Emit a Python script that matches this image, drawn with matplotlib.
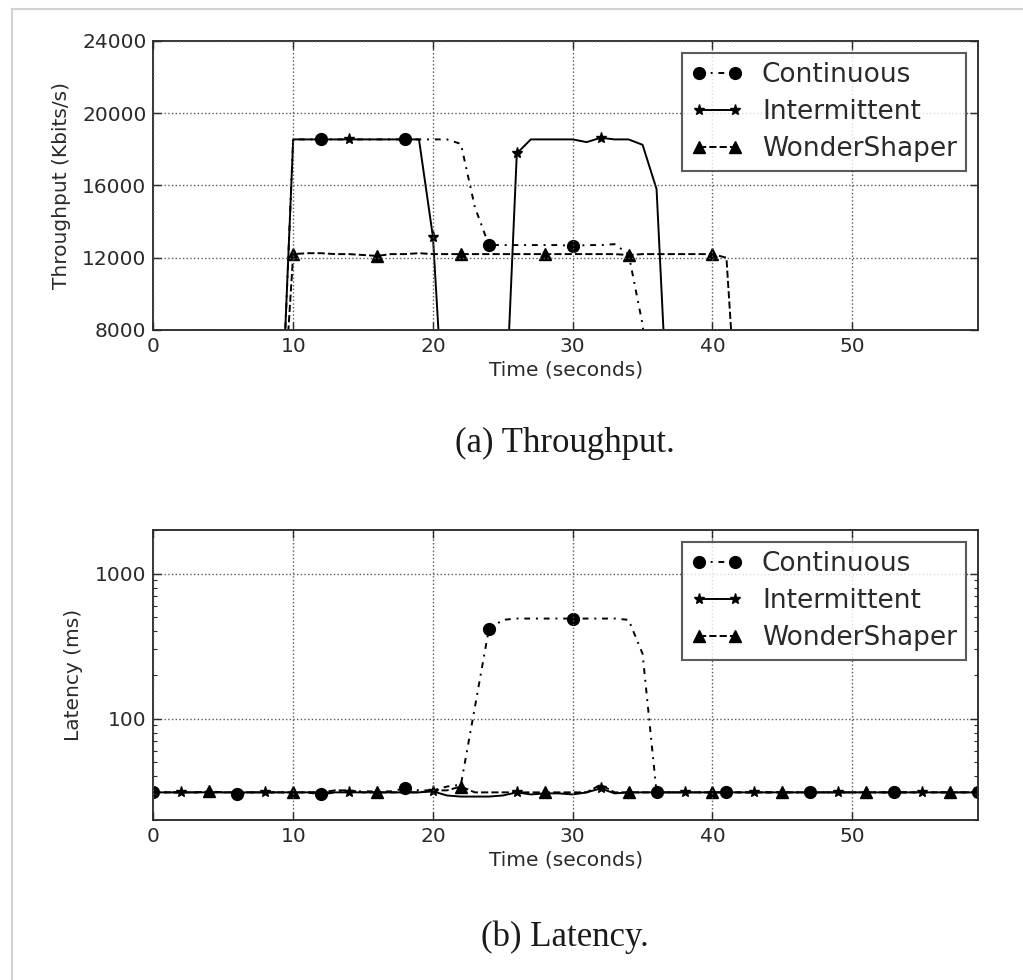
import matplotlib
matplotlib.use('Agg')
import matplotlib.pyplot as plt
from matplotlib.lines import Line2D
from matplotlib.ticker import FixedLocator, FixedFormatter, NullFormatter, LogLocator
import numpy as np

# sample times (seconds)
time_s = list(range(60))

# throughput in Kbits/s, 0 where the flow is idle
tput_continuous = [0]*10 + [18550]*12 + [18300, 14800, 12700, 12700, 12700, 12700, 12700,
                   12700, 12650, 12700, 12700, 12750, 12200, 8300] + [0]*24
tput_intermittent = [0]*10 + [18550]*10 + [13150, 0, 0, 0, 0, 0, 17770, 18550, 18550, 18550,
                     18550, 18400, 18640, 18550, 18550, 18250, 15800] + [0]*23
tput_wondershaper = [0]*10 + [12200, 12250, 12250, 12200, 12200, 12150, 12100, 12200, 12200,
                     12250, 12200, 12200, 12200, 12200, 12200, 12200, 12200, 12200, 12200,
                     12200, 12200, 12200, 12200, 12200, 12150, 12200, 12200, 12200, 12200,
                     12200, 12200, 12000] + [0]*18

# latency in ms
lat_continuous = [31, 31, 31, 31, 31, 31, 30, 31, 31, 31, 31, 31, 30, 31, 31.5, 31.5, 31.5,
                  31.5, 33, 32, 32, 34, 35, 120, 414, 480, 490, 490, 490, 490, 490, 490,
                  490, 490, 480, 280, 31] + [31]*23
lat_intermittent = [31]*20 + [31.5, 29.5, 29, 29, 29, 29.5, 31, 30, 30.5, 30.5, 30, 31, 33,
                    30.5, 31, 31, 31] + [31]*23
lat_wondershaper = [31, 31, 31, 31, 31.5, 31, 31, 31, 31, 31, 31, 31, 31, 32, 32, 31, 31, 31,
                    31, 31, 32, 32, 34, 31, 31, 31, 31, 31, 31, 31, 31, 31, 35, 31, 31, 31,
                    31] + [31]*23

# indices that carry a marker
lat_marks_continuous = [0, 6, 12, 18, 24, 30, 36, 41, 47, 53, 59]
lat_marks_intermittent = [2, 8, 14, 20, 26, 32, 38, 43, 49, 55]
lat_marks_wondershaper = [4, 10, 16, 22, 28, 34, 40, 45, 51, 57]

series_labels = ['Continuous', 'Intermittent', 'WonderShaper']

TXT = '#2a2a2a'
plt.rcParams['font.family'] = 'DejaVu Sans'
plt.rcParams['font.size'] = 14.5
plt.rcParams['text.color'] = TXT
plt.rcParams['axes.labelcolor'] = TXT
plt.rcParams['xtick.color'] = TXT
plt.rcParams['ytick.color'] = TXT


def style_axes(ax):
    for sp in ax.spines.values():
        sp.set_linewidth(1.4)
        sp.set_color('#333333')
    ax.tick_params(which='both', direction='in', top=True, right=True, pad=5)
    ax.tick_params(which='major', length=6, width=1)
    ax.tick_params(which='minor', length=3, width=0.8)
    ax.grid(True, which='major', linestyle=':', color='0.35', linewidth=1.0)
    ax.set_axisbelow(False)
    ax.set_xlim(0, 59)
    ax.set_xticks([0, 10, 20, 30, 40, 50])
    ax.set_xlabel('Time (seconds)', labelpad=3)


def add_legend(ax):
    leg = ax.legend(loc='upper right', numpoints=2, fontsize=19, fancybox=False,
                    handlelength=1.95, handletextpad=0.72, borderpad=0.35,
                    labelspacing=0.42, borderaxespad=0.45)
    leg.get_frame().set_edgecolor('#333333')
    leg.get_frame().set_linewidth(1.5)


def draw(ax, ys, marks):
    ax.plot(time_s, ys[0], linestyle=(0, (3, 3, 1, 3)), color='black', lw=1.4, marker='o',
            ms=8.5, markevery=marks[0], label=series_labels[0])
    ax.plot(time_s, ys[1], linestyle='-', color='black', lw=1.4, marker='*', ms=8,
            markevery=marks[1], label=series_labels[1])
    ax.plot(time_s, ys[2], linestyle='--', color='black', lw=1.4, marker='^', ms=8,
            markevery=marks[2], label=series_labels[2])


fig = plt.figure(figsize=(10.23, 9.8), dpi=100)

# throughput panel
ax1 = fig.add_axes([0.150, 0.6633, 0.806, 0.2949])
draw(ax1, [tput_continuous, tput_intermittent, tput_wondershaper],
     [(0, 6), (2, 6), (4, 6)])
style_axes(ax1)
ax1.set_ylim(8000, 24000)
ax1.set_yticks([8000, 12000, 16000, 20000, 24000])
ax1.set_ylabel('Throughput (Kbits/s)', labelpad=8)
add_legend(ax1)

# latency panel, log scale
ax2 = fig.add_axes([0.150, 0.1633, 0.806, 0.2959])
draw(ax2, [lat_continuous, lat_intermittent, lat_wondershaper],
     [lat_marks_continuous, lat_marks_intermittent, lat_marks_wondershaper])
ax2.set_yscale('log')
style_axes(ax2)
ax2.set_ylim(20, 2000)
ax2.yaxis.set_major_locator(FixedLocator([100, 1000]))
ax2.yaxis.set_major_formatter(FixedFormatter(['100', '1000']))
ax2.yaxis.set_minor_locator(LogLocator(base=10, subs=np.arange(2, 10)))
ax2.yaxis.set_minor_formatter(NullFormatter())
ax2.set_ylabel('Latency (ms)', labelpad=9)
add_legend(ax2)

# captions under each panel
fig.text(565/1023, 1 - 443/980, '(a) Throughput.', family='Liberation Serif',
         fontsize=25, ha='center', va='center', color='#1a1a1a')
fig.text(565/1023, 1 - 937/980, '(b) Latency.', family='Liberation Serif',
         fontsize=25, ha='center', va='center', color='#1a1a1a')

# thin page edge on the left and top
fig.add_artist(Line2D([12/1023, 12/1023], [0, 1 - 9/980], color='0.82', lw=1.5))
fig.add_artist(Line2D([12/1023, 1], [1 - 9/980, 1 - 9/980], color='0.82', lw=1.5))

fig.savefig('out.png', dpi=100, facecolor='white')
